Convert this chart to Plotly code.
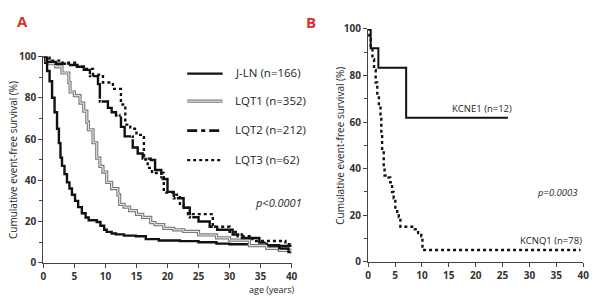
import plotly.graph_objects as go

# ---------------- data ----------------
jln_t = [0, 0.3, 0.6, 1.0, 1.4, 1.8, 2.2, 2.5, 2.75, 3.0, 3.4, 3.8, 4.2, 4.6, 5.1, 5.6, 6.2, 6.8, 7.3,
         8.6, 9.2, 9.8, 10.2, 11.0, 11.7, 13.0, 14.9, 16.5, 18.6, 22, 25, 27.9, 30, 33.2, 36, 40]
jln_s = [100, 97, 93, 88, 80, 73, 65, 58, 51, 47, 43, 39, 36, 33, 30, 27, 24, 22, 20.6,
         19.8, 18, 16, 15, 14.2, 13.8, 13.2, 12.9, 11.5, 10.8, 10.5, 10, 9.3, 9, 8.3, 8.2, 8]

lqt1_t = [0, 0.5, 1, 2, 3, 4.1, 4.3, 5.0, 5.9, 6.5, 7.0, 7.25, 8.0, 8.6, 9.1, 9.6, 10.2, 11, 12.0, 12.3,
          13, 13.9, 15, 16, 17.3, 18, 19.4, 21, 22.6, 25, 27.9, 30, 33.2, 36, 38, 40]
lqt1_s = [100, 98, 96.5, 95, 92, 87.4, 82.8, 81, 77.4, 73.5, 68.2, 64.5, 58.2, 50.7, 46.7, 44, 39, 36, 32.9, 28.3,
          27, 25.3, 23.5, 22, 19.5, 18.5, 16.7, 16, 15.2, 13.5, 12.1, 11, 8.3, 7, 6, 4.5]

lqt2_t = [0, 0.6, 2, 4.3, 5.5, 6.5, 7.5, 8.8, 9.1, 10.4, 11.0, 11.7, 12.5, 13.1, 14.4, 15.2, 16, 17.3, 18,
          19, 20, 21, 22.6, 23.6, 25, 26.8, 28, 30.5, 32, 34.8, 36, 38, 39.5, 40]
lqt2_s = [100, 97.4, 96.5, 95.9, 95, 93.5, 90.5, 86.6, 78.2, 75.1, 73, 71.4, 65.9, 61.3, 55.9, 53, 50.5, 49.8, 45,
          40.6, 34.4, 31.3, 26.7, 22.1, 20, 17.5, 16, 13.7, 12, 9.8, 8.5, 7, 5.2, 5]

lqt3_t = [0, 1, 3, 5.4, 6.5, 8, 9.6, 11.2, 12.5, 13.2, 14, 15, 16.2, 16.8, 17.5, 19.4, 21, 22, 22.6, 23.3,
          27.3, 30, 31.3, 33.7, 39, 40]
lqt3_s = [100, 98, 97, 95, 94, 91.2, 87.4, 84.3, 76.7, 67, 65, 62, 50, 46, 43.5, 34, 33, 28, 26.7, 23.6,
          17.5, 15, 12.9, 10.6, 9, 9]

kcne1_t = [0, 0.48, 1.9, 7.07, 26.0]
kcne1_s = [100, 91.7, 83.3, 61.9, 61.9]

kcnq1_t = [0, 0.2, 0.48, 0.8, 1.1, 1.4, 1.7, 2.0, 2.3, 2.45, 2.6, 2.9, 3.05, 3.8, 4.1, 4.45, 4.75, 5.06, 5.4,
           5.7, 6.0, 8.7, 9.3, 9.9, 10.1, 39.5]
kcnq1_s = [100, 96, 91.2, 87, 82.4, 77, 71.6, 67, 62, 55, 47.8, 41, 37.1, 36.2, 34.2, 30, 27.3, 23.3, 21,
           19.2, 15.1, 14, 12.4, 11, 5.1, 5.1]

legend_names = ["J-LN (n=166)", "LQT1 (n=352)", "LQT2 (n=212)", "LQT3 (n=62)"]
x_ticks = [0, 5, 10, 15, 20, 25, 30, 35, 40]
y_ticks = [0, 20, 40, 60, 80, 100]

# ---------------- figure ----------------
W, H = 600, 305
def px(x):
    return x / W
def py(y):
    return 1 - y / H

BLACK = "#111111"
LQT2_DASH = "30px,1.2px,2px,1.2px"

fig = go.Figure()

def step(x, y, ax, color, width, dash="solid", name=""):
    fig.add_trace(go.Scatter(x=x, y=y, mode="lines", line=dict(color=color, width=width, dash=dash, shape="hv"),
                             xaxis=ax[0], yaxis=ax[1], showlegend=False, name=name, hoverinfo="skip",
                             cliponaxis=False))

A = ("x", "y")
B = ("x2", "y2")
step(jln_t, jln_s, A, BLACK, 2.4, name=legend_names[0])
step(lqt1_t, lqt1_s, A, "#7a7a7a", 3.2, name=legend_names[1])
step(lqt1_t, lqt1_s, A, "#ffffff", 0.9)
step(lqt3_t, lqt3_s, A, BLACK, 2.4, dash="dot", name=legend_names[3])
step(lqt2_t, lqt2_s, A, BLACK, 2.4, dash=LQT2_DASH, name=legend_names[2])

step(kcne1_t, kcne1_s, B, BLACK, 2.0, name="KCNE1 (n=12)")
step(kcnq1_t, kcnq1_s, B, BLACK, 2.4, dash="dot", name="KCNQ1 (n=78)")

tickfont = dict(family="Open Sans", size=10, color="#333333", weight="bold")
axline = dict(showline=True, linecolor="#444444", linewidth=1.3, ticks="outside", ticklen=4,
              tickcolor="#444444", tickwidth=1.2, showgrid=False, zeroline=False, tickfont=tickfont,
              fixedrange=True)

fig.update_layout(
    width=W, height=H, margin=dict(l=0, r=0, t=0, b=0),
    plot_bgcolor="white", paper_bgcolor="white",
    xaxis=dict(domain=[px(41), px(293)], range=[0, 40], tickvals=x_ticks, anchor="y", **axline),
    yaxis=dict(domain=[py(268), py(51)], range=[0, 100], tickvals=y_ticks, anchor="x",
               minor=dict(tickvals=[10, 30, 50, 70, 90], ticks="outside", ticklen=3, tickcolor="#444444"),
               **axline),
    xaxis2=dict(domain=[px(370.7), px(589)], range=[0, 40], tickvals=x_ticks, anchor="y2", **axline),
    yaxis2=dict(domain=[py(267), py(22)], range=[0, 100], tickvals=y_ticks, anchor="x2",
                minor=dict(tickvals=[10, 30, 50, 70, 90], ticks="outside", ticklen=3, tickcolor="#444444"),
                **axline),
)

TXT = "#1e1e1e"
def ann(text, x, y, size=10, color=TXT, xanchor="center", angle=0, bold=False):
    fig.add_annotation(text=text, x=px(x), y=py(y), xref="paper", yref="paper", showarrow=False,
                       xanchor=xanchor, yanchor="middle", textangle=angle,
                       font=dict(family="Open Sans", size=size, color=color,
                                 weight="bold" if bold else "normal"))

RED = "#d8312f"
ann("A", 20, 14, size=15, color=RED, bold=True)
ann("B", 313, 15, size=15, color=RED, bold=True)
ann("Cumulative event-free survival (%)", 10, 160, size=10, angle=-90)
ann("Cumulative event-free survival (%)", 342, 145, size=10, angle=-90)
ann("age (years)", 273, 296, size=9)
ann("<i>p&lt;0.0001</i>", 254, 205, size=11, xanchor="left")
ann("<i>p=0.0003</i>", 540, 194, size=9.5, xanchor="left")
ann("KCNE1 (n=12)", 454, 106, size=9.5, xanchor="left")
ann("KCNQ1 (n=78)", 523, 245, size=9.5, xanchor="left")

# legend (panel A)
leg_y = [69, 98, 129, 160]
leg_styles = [
    [dict(color=BLACK, width=2.4, dash="solid")],
    [dict(color="#7a7a7a", width=3.2, dash="solid"), dict(color="#ffffff", width=0.9, dash="solid")],
    [dict(color=BLACK, width=2.6, dash="10px,4px,4px,4px")],
    [dict(color=BLACK, width=2.4, dash="dot")],
]
for name, yy, styles in zip(legend_names, leg_y, leg_styles):
    for st in styles:
        fig.add_shape(type="line", xref="paper", yref="paper", x0=px(187), x1=px(223), y0=py(yy), y1=py(yy),
                      line=st)
    ann(name, 233, yy - 1, size=11.5, xanchor="left")

fig.write_html("out.html", config={"displayModeBar": False},
               post_script="document.body.style.margin='0px';")
